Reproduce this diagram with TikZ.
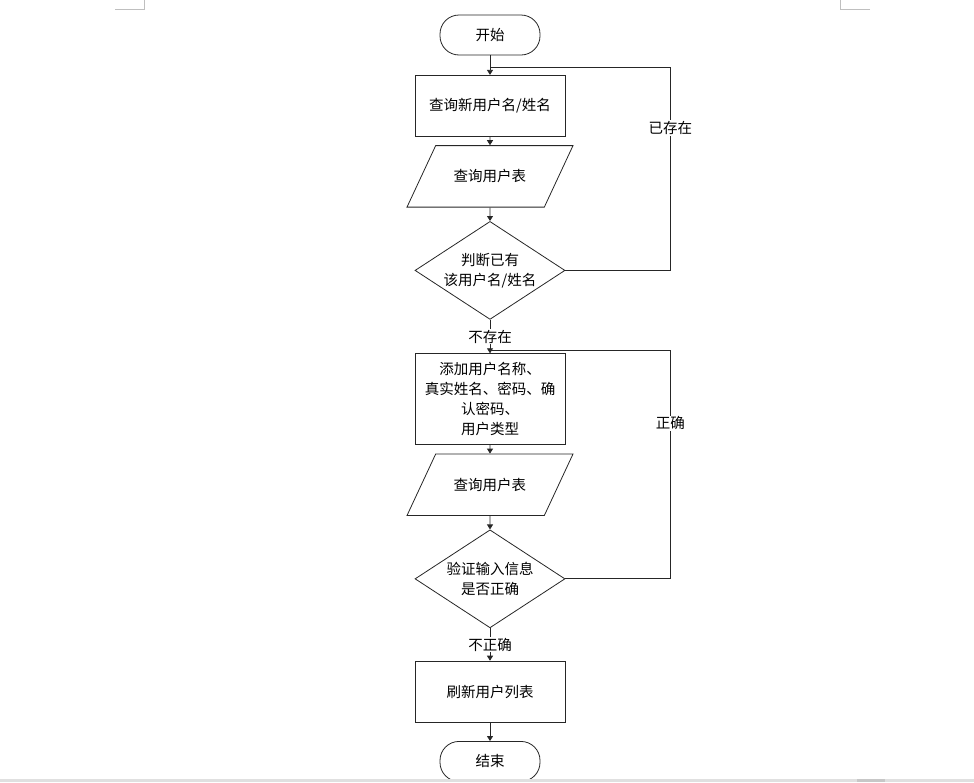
\documentclass[tikz,border=0pt]{standalone}
\usepackage{fontspec}
\setmainfont{Noto Sans CJK SC}
\usepackage{tikz}
\usetikzlibrary{arrows.meta,positioning,shapes.geometric}

\begin{document}
\begin{tikzpicture}[x=1pt,y=-1pt,
 font=\fontsize{14.5}{20}\selectfont,
 line/.style={draw=black!85,line width=0.8pt},
 arrow/.style={line,-{Triangle[length=5pt,width=6pt]}},
 term/.style={line,rounded corners=19pt,minimum width=100pt,minimum height=40pt,inner sep=0pt},
 box/.style={line,align=center,minimum width=150pt,inner sep=0pt},
 io/.style={line,trapezium,trapezium left angle=65,trapezium right angle=115,trapezium stretches body,minimum width=166pt,inner xsep=0pt,inner ysep=24pt},
 test/.style={line,diamond,aspect=1.5,align=center,minimum width=150pt,minimum height=98pt,inner sep=0pt},
 lbl/.style={fill=white,inner sep=1pt},
 cropmark/.style={draw=black!25,line width=0.8pt}]
\useasboundingbox (0,0) rectangle (974,782);
\node[term] (start) at (490,35) {开始};
\node[box,minimum height=61pt,below=19.5pt of start] (name) {查询新用户名/姓名};
\node[io,below=8.5pt of name] (table1) {查询用户表};
\node[test,below=13.5pt of table1] (exists) {判断已有\\该用户名/姓名};
\node[box,minimum height=91pt,below=33.5pt of exists] (add) {添加用户名称、\\真实姓名、密码、确\\认密码、\\用户类型};
\node[io,below=8.5pt of add] (table2) {查询用户表};
\node[test,below=13.5pt of table2] (check) {验证输入信息\\是否正确};
\node[box,minimum height=61pt,below=32.5pt of check] (refresh) {刷新用户列表};
\node[term,below=18.5pt of refresh] (stop) {结束};
\coordinate[above=8pt of name.north] (j1);
\coordinate[above=3pt of add.north] (j2);
\draw[arrow] (start)--(name);
\draw[arrow] (name)--(table1);
\draw[arrow] (table1)--(exists);
\draw[arrow] (exists)--node[lbl]{不存在}(add);
\draw[arrow] (add)--(table2);
\draw[arrow] (table2)--(check);
\draw[arrow] (check)--node[lbl]{不正确}(refresh);
\draw[arrow] (refresh)--(stop);
\draw[line] (exists.east)--++(105pt,0) |- node[lbl,pos=0.35]{已存在} (j1);
\draw[line] (check.east)--++(105pt,0) |- node[lbl,pos=0.34]{正确} (j2);
% page corner marks and bottom bar
\draw[cropmark] (115,9.5)--(144.5,9.5)--(144.5,0);
\draw[cropmark] (870,9.5)--(840.5,9.5)--(840.5,0);
\fill[black!12] (0,779) rectangle (974,782);
\fill[black!22] (857,779) rectangle (885,782);
\end{tikzpicture}
\end{document}
